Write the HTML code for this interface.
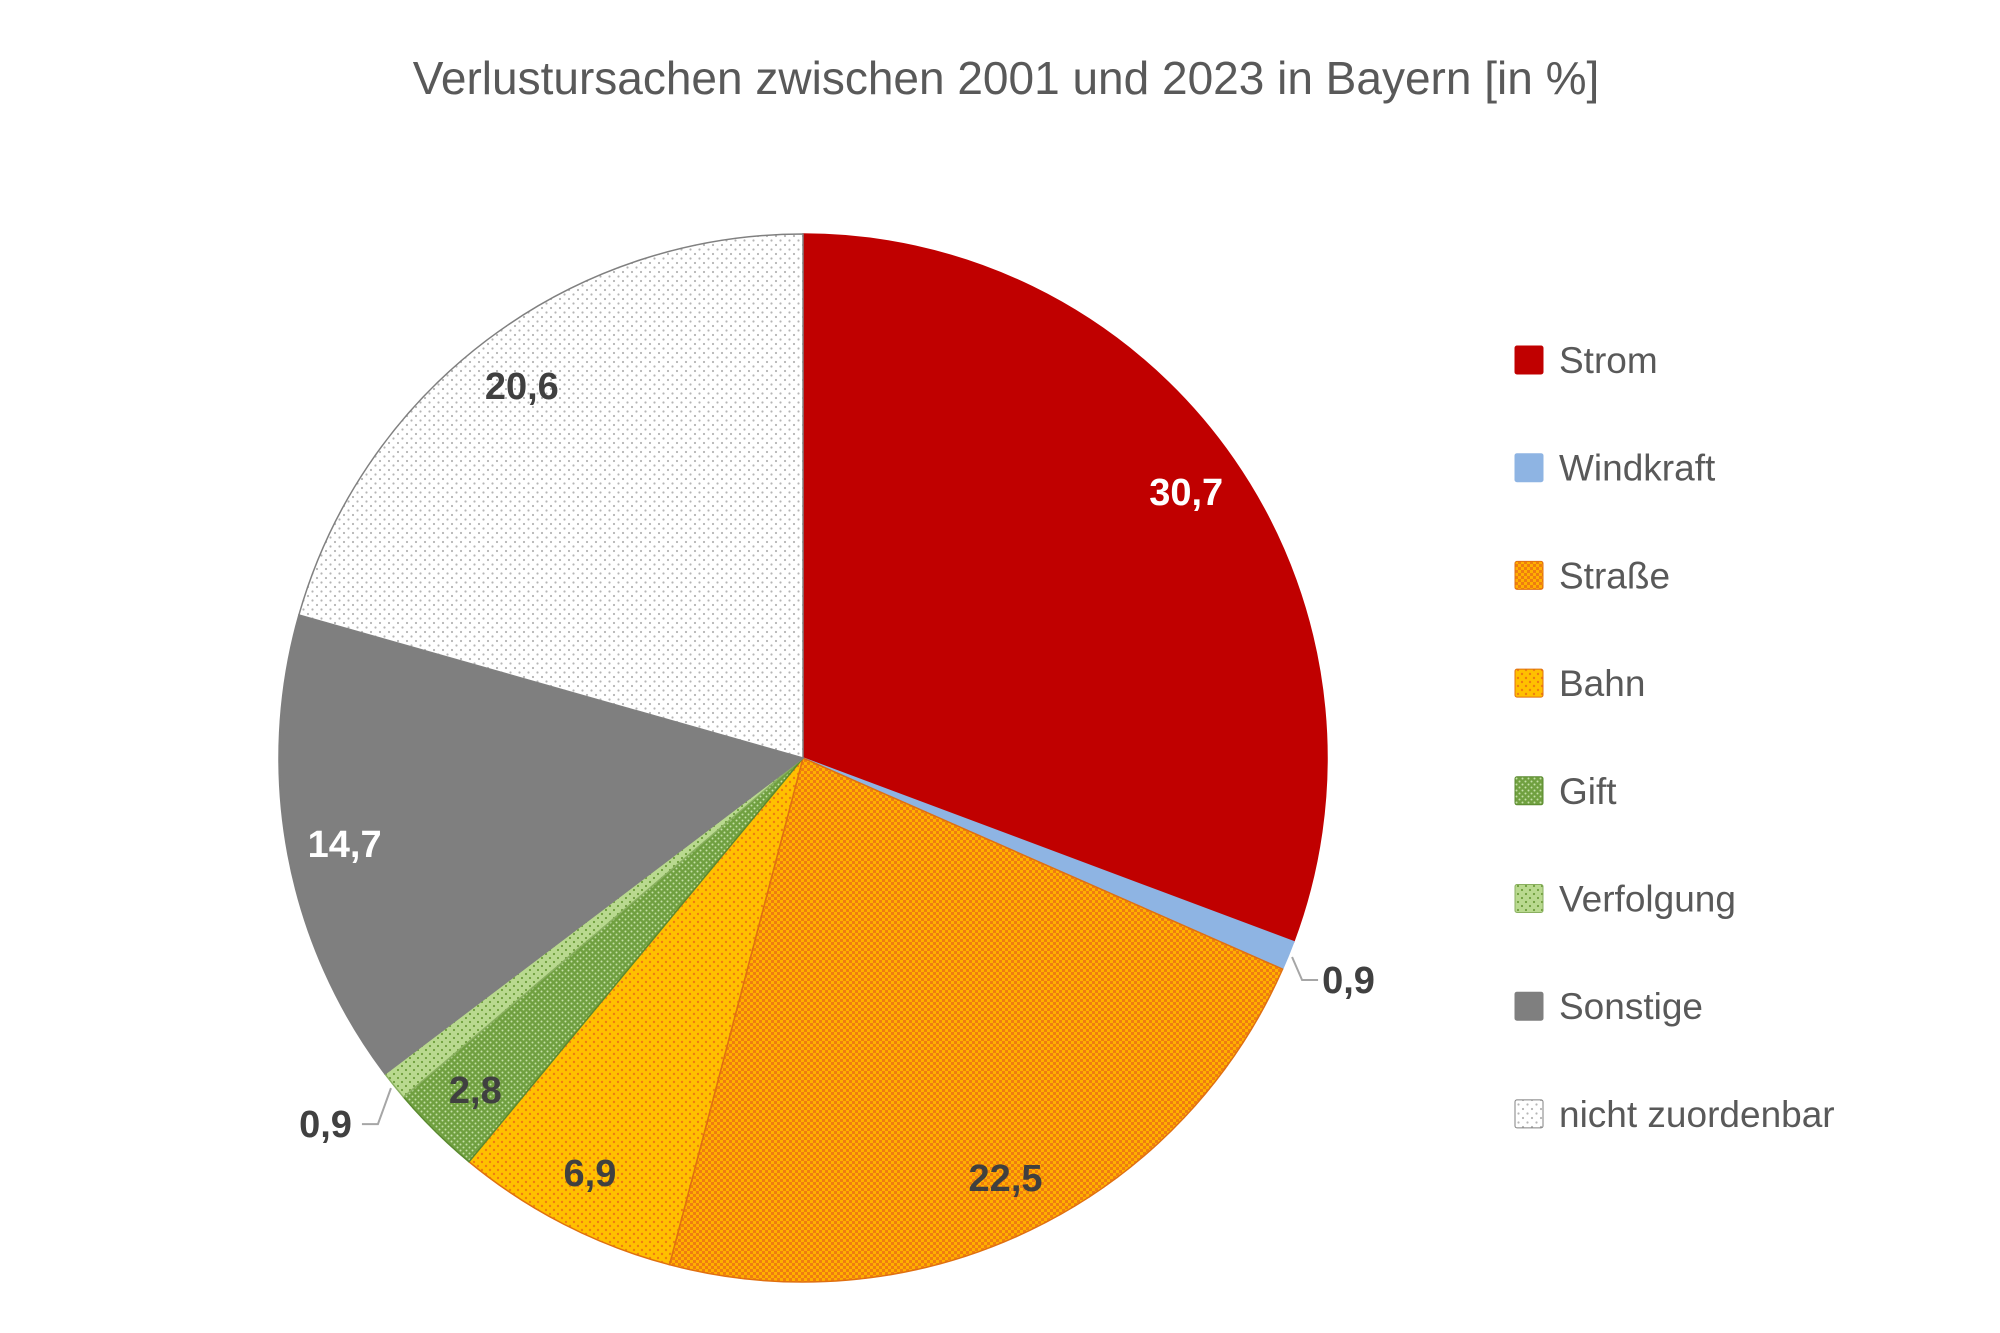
<!DOCTYPE html>
<html><head><meta charset="utf-8">
<style>
html,body{margin:0;padding:0;background:#fff;}
svg{display:block;}
text{font-family:"Liberation Sans",sans-serif;}
</style></head>
<body>
<svg id="chart" width="2000" height="1333" viewBox="0 0 2000 1333" xmlns="http://www.w3.org/2000/svg">
<defs>
  <pattern id="pStrasse" width="6" height="6" patternUnits="userSpaceOnUse">
    <rect width="6" height="6" fill="#ee7d10"/>
    <rect x="0" y="0" width="3" height="3" fill="#ffb000"/>
    <rect x="3" y="3" width="3" height="3" fill="#ffb000"/>
  </pattern>
  <pattern id="pBahn" width="8" height="8" patternUnits="userSpaceOnUse">
    <rect width="8" height="8" fill="#ffc000"/>
    <circle cx="2" cy="2" r="1.2" fill="#ee7d10"/>
    <circle cx="6" cy="6" r="1.2" fill="#ee7d10"/>
  </pattern>
  <pattern id="pGift" width="6" height="6" patternUnits="userSpaceOnUse">
    <rect width="6" height="6" fill="#70a040"/>
    <circle cx="1.5" cy="1.5" r="1" fill="#c5e0a8"/>
    <circle cx="4.5" cy="4.5" r="1" fill="#c5e0a8"/>
  </pattern>
  <pattern id="pVerf" width="8" height="8" patternUnits="userSpaceOnUse">
    <rect width="8" height="8" fill="#b9d98f"/>
    <circle cx="2" cy="2" r="1.1" fill="#6f9e3c"/>
    <circle cx="6" cy="6" r="1.1" fill="#6f9e3c"/>
  </pattern>
  <pattern id="pNicht" width="9" height="9" patternUnits="userSpaceOnUse">
    <rect width="9" height="9" fill="#fff"/>
    <circle cx="2" cy="2" r="1.1" fill="#b5b5b5"/>
    <circle cx="6.5" cy="6.5" r="1.1" fill="#b5b5b5"/>
  </pattern>
</defs>
<text x="1006" y="94" text-anchor="middle" font-size="46" fill="#595959">Verlustursachen zwischen 2001 und 2023 in Bayern [in %]</text>
<g id="slices"></g>
<g id="labels"></g>
<g id="legend"></g>
</svg>
<script>
const categories = ["Strom","Windkraft","Straße","Bahn","Gift","Verfolgung","Sonstige","nicht zuordenbar"];
const values = [30.7,0.9,22.5,6.9,2.8,0.9,14.7,20.6];
const valueLabels = ["30,7","0,9","22,5","6,9","2,8","0,9","14,7","20,6"];
const fills = ["#c00000","#8eb4e3","url(#pStrasse)","url(#pBahn)","url(#pGift)","url(#pVerf)","#7f7f7f","url(#pNicht)"];
const strokes = ["#c00000","#8eb4e3","#e07010","#e07010","#5a8a30","#8ab060","#7f7f7f","#808080"];
const labelColors = ["#fff","#404040","#404040","#404040","#404040","#404040","#fff","#404040"];

const NS = "http://www.w3.org/2000/svg";
const cx = 803, cy = 758, R = 524;
const total = values.reduce((a,b)=>a+b,0);
function pt(angle, r){ return [cx + r*Math.sin(angle), cy - r*Math.cos(angle)]; }
function ang(v){ return v/total*2*Math.PI; }

const gS = document.getElementById('slices');
const gL = document.getElementById('labels');
let acc = 0;
values.forEach((v,i)=>{
  const a0 = ang(acc), a1 = ang(acc+v);
  const [x0,y0] = pt(a0,R), [x1,y1] = pt(a1,R);
  const large = (a1-a0) > Math.PI ? 1 : 0;
  const p = document.createElementNS(NS,'path');
  p.setAttribute('d', `M${cx},${cy} L${x0},${y0} A${R},${R} 0 ${large} 1 ${x1},${y1} Z`);
  p.setAttribute('fill', fills[i]);
  p.setAttribute('stroke', strokes[i]);
  p.setAttribute('stroke-width', '1.5');
  
  
  gS.appendChild(p);

  const am = (a0+a1)/2;
  const t = document.createElementNS(NS,'text');
  t.setAttribute('font-size','38');
  t.setAttribute('font-weight','bold');
  t.setAttribute('fill', labelColors[i]);
  t.textContent = valueLabels[i];
  if (v < 2) {
    const [ex,ey] = pt(am, R+4);
    const right = Math.sin(am) > 0;
    const kx = ex + (right ? 10 : -13), ky = ey + (right ? 23 : 36);
    const lx = kx + (right ? 16 : -16);
    const ln = document.createElementNS(NS,'polyline');
    ln.setAttribute('points', `${ex},${ey} ${kx},${ky} ${lx},${ky}`);
    ln.setAttribute('fill','none');
    ln.setAttribute('stroke','#a6a6a6');
    ln.setAttribute('stroke-width','2');
    
    
    gL.appendChild(ln);
    t.setAttribute('x', lx + (right ? 4 : -10));
    t.setAttribute('y', ky + 13);
    t.setAttribute('text-anchor', right ? 'start' : 'end');
  } else {
    const [lx,ly] = pt(am, R*0.89);
    t.setAttribute('x', lx);
    t.setAttribute('y', ly + 13);
    t.setAttribute('text-anchor','middle');
  }
  
  
  gL.appendChild(t);
  acc += v;
});

const gLeg = document.getElementById('legend');
categories.forEach((c,i)=>{
  const y = 346 + i*107.7;
  const g = document.createElementNS(NS,'g');
  
  
  const r = document.createElementNS(NS,'rect');
  r.setAttribute('x',1515); r.setAttribute('y',y);
  r.setAttribute('width',28); r.setAttribute('height',28);
  r.setAttribute('rx',2);
  r.setAttribute('fill',fills[i]);
  r.setAttribute('stroke',strokes[i]);
  r.setAttribute('stroke-width','1');
  
  
  g.appendChild(r);
  const t = document.createElementNS(NS,'text');
  t.setAttribute('x',1559); t.setAttribute('y',y+27);
  t.setAttribute('font-size','37');
  t.setAttribute('fill','#595959');
  t.textContent = c;
  
  
  g.appendChild(t);
  gLeg.appendChild(g);
});
</script>
</body></html>
